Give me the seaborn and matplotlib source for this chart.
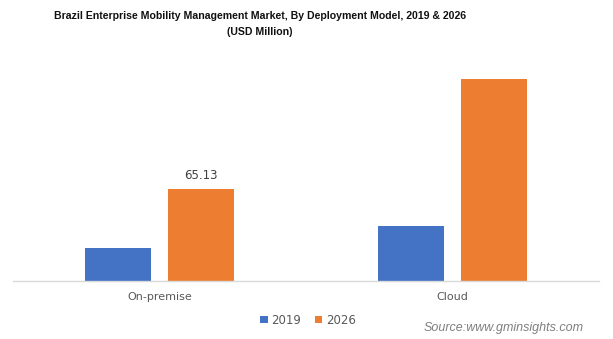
import matplotlib
matplotlib.use("Agg")
import matplotlib.pyplot as plt
import seaborn as sns
import pandas as pd
from matplotlib.patches import Patch

# Market size by deployment model (USD Million)
categories = ["On-premise", "Cloud"]
years = ["2019", "2026"]
values_2019 = [23.1, 39.0]
values_2026 = [65.13, 143.4]
labelled_value = 65.13

colors = ["#4472C4", "#ED7D31"]

df = pd.DataFrame({
    "Deployment": categories * 2,
    "Year": [years[0]] * len(categories) + [years[1]] * len(categories),
    "Value": values_2019 + values_2026,
})

sns.set_theme(style="white")
plt.rcParams["font.family"] = ["DejaVu Sans"]

fig = plt.figure(figsize=(6.13, 3.39), dpi=100)
ax = fig.add_axes([13 / 613, 1 - 280.7 / 339, 586 / 613, 224.8 / 339])

sns.barplot(data=df, x="Deployment", y="Value", hue="Year",
            palette=colors, width=0.567, gap=0.212, ax=ax,
            saturation=1, legend=False, linewidth=0)

ax.set_xlim(-0.5, 1.5)
ax.set_ylim(0, 160)
ax.set_xlabel("")
ax.set_ylabel("")
ax.set_yticks([])
for side in ["left", "right", "top"]:
    ax.spines[side].set_visible(False)
ax.spines["bottom"].set_color("#d9d9d9")
ax.spines["bottom"].set_linewidth(1.0)
ax.tick_params(axis="x", length=0, pad=8, labelsize=8, labelcolor="#595959")

# value label above the 2026 on-premise bar
for cont in ax.containers:
    for bar in cont:
        if abs(bar.get_height() - labelled_value) < 1e-6:
            ax.annotate(f"{labelled_value:.2f}",
                        (bar.get_x() + bar.get_width() / 2, bar.get_height()),
                        xytext=(0, 5), textcoords="offset points",
                        ha="center", va="bottom", fontsize=8.5, color="#404040")

# title
title_font = ["Liberation Sans Narrow", "Liberation Sans", "DejaVu Sans"]
fig.text(260 / 613, 1 - 16 / 339,
         "Brazil Enterprise Mobility Management Market, By Deployment Model, 2019 & 2026",
         ha="center", va="center", fontsize=7.6, fontweight="bold",
         family=title_font, color="#111111")
fig.text(260 / 613, 1 - 32 / 339, "(USD Million)",
         ha="center", va="center", fontsize=7.6, fontweight="bold",
         family=title_font, color="#111111")

# legend
handles = [Patch(facecolor=c, edgecolor="none") for c in colors]
fig.legend(handles, years, loc="center", bbox_to_anchor=(308 / 613, 1 - 320 / 339),
           ncol=2, frameon=False, fontsize=8.5, handlelength=0.6, handleheight=0.6,
           handletextpad=0.3, columnspacing=1.2, labelcolor="#595959")

# source note
fig.text(584 / 613, 1 - 327.7 / 339, "Source:www.gminsights.com",
         ha="right", va="center", fontsize=9, style="italic",
         family=["Liberation Sans", "DejaVu Sans"], color="#7f7f7f")

fig.savefig("out.png", dpi=100)
